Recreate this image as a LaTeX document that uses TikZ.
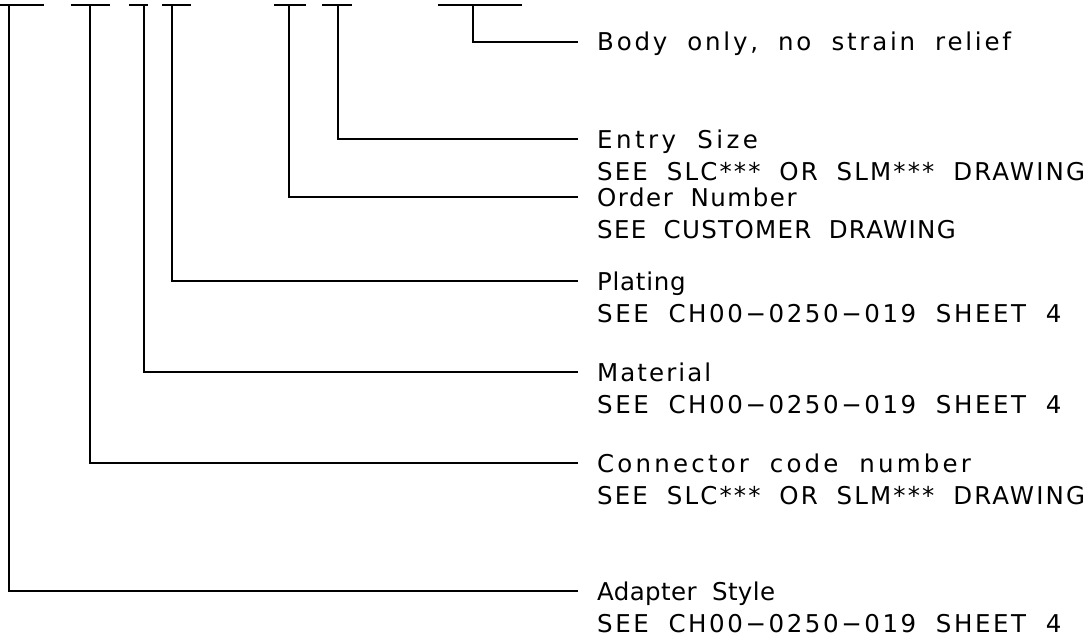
\documentclass[tikz,border=0pt]{standalone}
\usepackage{fontspec}
\newfontfamily\cadfont{DejaVu Sans}[LetterSpace=9, WordSpace=1.9]
\newcommand{\LSp}[1]{\addfontfeature{LetterSpace=#1}}
\tikzset{
  wire/.style={line width=2pt, black},
  lbl/.style={anchor=base west, inner sep=0pt, font=\cadfont\fontsize{24.5}{29}\selectfont, text=black}
}
\begin{document}
\begin{tikzpicture}[x=1pt,y=-1pt]
\useasboundingbox (0,0) rectangle (1091,642);
% top bars
\foreach \n/\a/\b/\c in {1/0/44/9, 2/71/110/90, 3/129/148/144, 4/162/191/172, 5/274/306/289, 6/322/352/338, 7/438/522/473}{
  \coordinate (bl\n) at (\a,5);
  \coordinate (br\n) at (\b,5);
  \coordinate (b\n) at (\c,5);
  \draw[wire] (bl\n) -- (br\n);
}
% leader ends
\coordinate (e7) at (578,42);
\coordinate (e6) at (578,139);
\coordinate (e5) at (578,197);
\coordinate (e4) at (578,281);
\coordinate (e3) at (578,372);
\coordinate (e2) at (578,463);
\coordinate (e1) at (578,591);
\foreach \n in {1,...,7}{
  \draw[wire] (b\n) |- (e\n);
}
% labels
\node[lbl] (t7) at (597,51) {\LSp{11.3}Body only, no strain relief};
\node[lbl] (t6) at (597,148) {\LSp{14}Entry Size};
\node[lbl] (s6) at (597,180) {\LSp{8.7}SEE SLC*** OR SLM*** DRAWING};
\node[lbl] (t5) at (597,206) {\LSp{6.2}Order Number};
\node[lbl] (s5) at (597,238) {\LSp{5.4}SEE CUSTOMER DRAWING};
\node[lbl] (t4) at (597,290) {\LSp{3}Plating};
\node[lbl] (s4) at (597,322) {\LSp{10.5}SEE CH00−0250−019 SHEET 4};
\node[lbl] (t3) at (597,381) {\LSp{8.4}Material};
\node[lbl] (s3) at (597,413) {\LSp{10.5}SEE CH00−0250−019 SHEET 4};
\node[lbl] (t2) at (597,472) {\LSp{13}Connector code number};
\node[lbl] (s2) at (597,504) {\LSp{8.7}SEE SLC*** OR SLM*** DRAWING};
\node[lbl] (t1) at (597,600) {\LSp{1.5}Adapter Style};
\node[lbl] (s1) at (597,632) {\LSp{10.5}SEE CH00−0250−019 SHEET 4};
\end{tikzpicture}
\end{document}
